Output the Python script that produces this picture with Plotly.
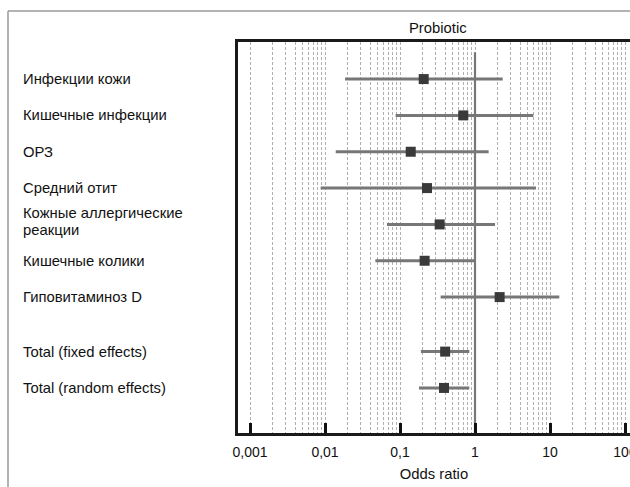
import plotly.graph_objects as go

labels = ["Инфекции кожи", "Кишечные инфекции", "ОРЗ", "Средний отит",
          "Кожные аллергические<br>реакции", "Кишечные колики", "Гиповитаминоз D",
          "Total (fixed effects)", "Total (random effects)"]
rows = [0, 1, 2, 3, 4, 5, 6, 7.5, 8.5]
odds = [0.207, 0.698, 0.139, 0.229, 0.338, 0.213, 2.13, 0.40, 0.386]
lower = [0.0185, 0.0875, 0.0139, 0.00875, 0.067, 0.0469, 0.348, 0.19, 0.179]
upper = [2.34, 6.0, 1.52, 6.5, 1.85, 0.98, 13.3, 0.84, 0.84]
major_vals = [0.001, 0.01, 0.1, 1, 10, 100]
major_text = ["0,001", "0,01", "0,1", "1", "10", "100"]

W, H = 630, 487
ML, MR, MT, MB = 238, 0, 42, 54
PW, PH = W - ML - MR, H - MT - MB

def px_x(p):
    return (p - ML) / PW

def px_y(p):
    return (H - MB - p) / PH

FONT = "Liberation Sans, Arial, Helvetica, sans-serif"
minor_vals = [m * d for d in [0.001, 0.01, 0.1, 1, 10, 100] for m in range(2, 10)]

fig = go.Figure()

# reference line at OR = 1
fig.add_trace(go.Scatter(x=[1, 1], y=[-0.74, 9.74], mode="lines",
                         line=dict(color="#777777", width=2.2),
                         hoverinfo="skip", showlegend=False))

fig.add_trace(go.Scatter(
    x=odds, y=rows, mode="markers",
    marker=dict(symbol="square", size=10, color="#3a3a3a"),
    error_x=dict(type="data", symmetric=False,
                 array=[u - o for u, o in zip(upper, odds)],
                 arrayminus=[o - l for o, l in zip(odds, lower)],
                 color="#777777", thickness=3, width=0),
    showlegend=False))

for lab, r in zip(labels, rows):
    parts = lab.split("<br>")
    shifts = [0] if len(parts) == 1 else [11, -6]
    for part, sh in zip(parts, shifts):
        fig.add_annotation(x=px_x(21), xref="paper", y=r, yref="y", text=part,
                           showarrow=False, xanchor="left", yanchor="middle",
                           align="left", font=dict(family=FONT, size=14.8, color="#111"),
                           yshift=sh)

fig.add_annotation(x=px_x(437.5), xref="paper", y=px_y(28), yref="paper",
                   text="Probiotic", showarrow=False, xanchor="center", yanchor="middle",
                   font=dict(family=FONT, size=14.8, color="#111"))

# outer gray frame
fig.add_shape(type="line", xref="paper", yref="paper", x0=px_x(8), x1=px_x(640),
              y0=px_y(11), y1=px_y(11), line=dict(color="#9a9a9a", width=1.5))
fig.add_shape(type="line", xref="paper", yref="paper", x0=px_x(8), x1=px_x(8),
              y0=px_y(11), y1=px_y(490), line=dict(color="#9a9a9a", width=1.5))

fig.update_xaxes(type="log", range=[-3.16, -3.16 + PW / 75.0], automargin=False,
                 tickmode="array", tickvals=major_vals, ticktext=major_text,
                 ticks="inside", ticklen=10, tickwidth=3, tickcolor="#111",
                 ticklabeloverflow="allow", ticklabelstandoff=4,
                 showgrid=True, gridcolor="#b0b0b0", gridwidth=1, griddash="3px,2px",
                 minor=dict(tickmode="array", tickvals=minor_vals, ticks="",
                            showgrid=True, gridcolor="#b0b0b0", gridwidth=1,
                            griddash="3px,2px"),
                 showline=True, linecolor="#1a1a1a", linewidth=3, mirror=True,
                 zeroline=False,
                 tickfont=dict(family=FONT, size=14, color="#111"),
                 title=dict(text="Odds ratio", standoff=10,
                            font=dict(family=FONT, size=14.8, color="#111")))
fig.update_yaxes(range=[9.74, -1.02], showticklabels=False, ticks="", automargin=False,
                 showgrid=False, zeroline=False,
                 showline=True, linecolor="#1a1a1a", linewidth=3, mirror=False)

fig.update_layout(width=W, height=H, margin=dict(l=ML, r=MR, t=MT, b=MB),
                  plot_bgcolor="white", paper_bgcolor="white",
                  font=dict(family=FONT, size=14, color="#111"))

fig.write_html("out.html")
